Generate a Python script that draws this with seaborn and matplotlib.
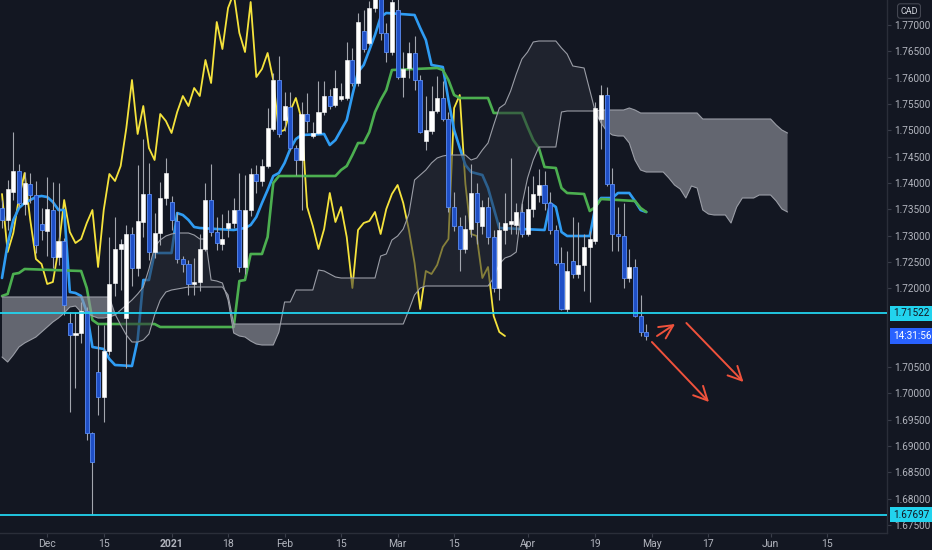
import numpy as np
import pandas as pd
import seaborn as sns
import matplotlib
matplotlib.use("Agg")
import matplotlib.pyplot as plt
import matplotlib.transforms as mtransforms

# daily candles, bar 0 = 19 Nov 2020 (holidays skipped)
opens = [
    1.73523, 1.73295, 1.73827, 1.74226, 1.73599, 1.73979, 1.73770, 1.73219, 1.73086, 1.73485,
    1.72592, 1.72896, 1.71338, 1.71110, 1.71148, 1.71566, 1.69248, 1.70407, 1.69932, 1.70806,
    1.72098, 1.72744, 1.71433, 1.73029, 1.72383, 1.73257, 1.73789, 1.72687, 1.73048, 1.73713,
    1.73637, 1.73276, 1.72554, 1.72459, 1.72079, 1.72117, 1.72744, 1.73675, 1.73067, 1.72839,
    1.73143, 1.73238, 1.73485, 1.72402, 1.73485, 1.74169, 1.74036, 1.74321, 1.75024, 1.75955,
    1.75195, 1.75442, 1.74663, 1.74435, 1.75309, 1.74891, 1.74948, 1.75347, 1.75651, 1.75480,
    1.75594, 1.75613, 1.76335, 1.75898, 1.76886, 1.76658, 1.77323, 1.77600, 1.76848, 1.76487,
    1.77285, 1.76012, 1.76183, 1.76468, 1.75955, 1.74796, 1.74986, 1.75366, 1.75613, 1.75214,
    1.73542, 1.73181, 1.72744, 1.73124, 1.73808, 1.73181, 1.73542, 1.72972, 1.72003, 1.73105,
    1.73219, 1.73200, 1.73447, 1.73029, 1.73504, 1.73770, 1.73960, 1.73618, 1.73105, 1.72478,
    1.71604, 1.72516, 1.72269, 1.72440, 1.72782, 1.72896, 1.75214, 1.75670, 1.73979, 1.73029,
    1.72991, 1.72193, 1.72402, 1.71471, 1.71167]
highs = [
    1.73675, 1.74055, 1.74967, 1.74359, 1.74207, 1.74188, 1.74036, 1.73523, 1.74112, 1.74017,
    1.73998, 1.72953, 1.71547, 1.71547, 1.71737, 1.71642, 1.69267, 1.71300, 1.71300, 1.72972,
    1.73352, 1.72934, 1.73200, 1.73162, 1.74340, 1.74834, 1.74378, 1.73428, 1.74017, 1.74473,
    1.73751, 1.73447, 1.72611, 1.72535, 1.72573, 1.73029, 1.73998, 1.74359, 1.73352, 1.73409,
    1.73485, 1.73713, 1.74188, 1.74150, 1.74283, 1.74340, 1.74454, 1.75423, 1.76088, 1.76411,
    1.75727, 1.75727, 1.74720, 1.75537, 1.75708, 1.75157, 1.75936, 1.75936, 1.75784, 1.76145,
    1.75898, 1.76677, 1.76563, 1.77228, 1.77285, 1.77456, 1.77900, 1.78100, 1.77038, 1.77800,
    1.77600, 1.76487, 1.76677, 1.76791, 1.76050, 1.75651, 1.75841, 1.76031, 1.75936, 1.75347,
    1.73827, 1.73352, 1.73390, 1.74359, 1.73998, 1.73675, 1.73732, 1.73105, 1.73257, 1.73808,
    1.74473, 1.73618, 1.73618, 1.73941, 1.74131, 1.74264, 1.74226, 1.73827, 1.73200, 1.72782,
    1.72706, 1.73352, 1.73257, 1.73029, 1.73086, 1.75537, 1.75860, 1.75822, 1.74283, 1.73542,
    1.73618, 1.72744, 1.72554, 1.71870, 1.71319]
lows = [
    1.73143, 1.73105, 1.73675, 1.73542, 1.73390, 1.73618, 1.72668, 1.72915, 1.72611, 1.72383,
    1.72440, 1.71490, 1.69647, 1.70103, 1.70958, 1.69115, 1.67697, 1.69590, 1.69457, 1.70730,
    1.71851, 1.71965, 1.70483, 1.72041, 1.72231, 1.72972, 1.72535, 1.72573, 1.72820, 1.73580,
    1.73105, 1.72478, 1.72307, 1.71870, 1.71870, 1.71946, 1.72706, 1.72991, 1.72725, 1.72725,
    1.72972, 1.73143, 1.72307, 1.72269, 1.73371, 1.73808, 1.73941, 1.74283, 1.74986, 1.74872,
    1.74986, 1.74625, 1.74150, 1.73485, 1.74967, 1.74853, 1.74929, 1.75290, 1.75404, 1.75442,
    1.75556, 1.75575, 1.75841, 1.75841, 1.76487, 1.76620, 1.77247, 1.76715, 1.76297, 1.76430,
    1.75974, 1.75632, 1.75993, 1.75765, 1.74948, 1.74625, 1.74929, 1.75328, 1.75176, 1.73447,
    1.73086, 1.72326, 1.72668, 1.72972, 1.72839, 1.73029, 1.72839, 1.71927, 1.71775, 1.72839,
    1.73029, 1.73029, 1.72972, 1.72991, 1.73352, 1.73637, 1.73485, 1.73029, 1.72440, 1.71585,
    1.71547, 1.72193, 1.72193, 1.71946, 1.71737, 1.72839, 1.74644, 1.73941, 1.72706, 1.72706,
    1.72003, 1.72117, 1.71452, 1.71091, 1.71015]
closes = [
    1.73295, 1.73884, 1.74226, 1.73618, 1.73998, 1.73770, 1.72820, 1.73105, 1.73504, 1.72592,
    1.72896, 1.71680, 1.71110, 1.71148, 1.71566, 1.69248, 1.68697, 1.69932, 1.70806, 1.72079,
    1.72744, 1.72839, 1.73029, 1.72383, 1.73276, 1.73789, 1.72687, 1.73048, 1.73713, 1.74188,
    1.73295, 1.72554, 1.72459, 1.72079, 1.72117, 1.72744, 1.73675, 1.73067, 1.72858, 1.72934,
    1.73238, 1.73485, 1.72402, 1.73485, 1.74169, 1.74036, 1.74321, 1.75043, 1.75955, 1.74929,
    1.75461, 1.74663, 1.74435, 1.75309, 1.75176, 1.74948, 1.75347, 1.75651, 1.75461, 1.75803,
    1.75651, 1.76335, 1.75898, 1.77057, 1.76544, 1.77323, 1.77600, 1.76848, 1.76487, 1.77437,
    1.76012, 1.76164, 1.76468, 1.75955, 1.74967, 1.75005, 1.75366, 1.75613, 1.75214, 1.73542,
    1.73181, 1.72744, 1.73124, 1.73808, 1.73257, 1.73542, 1.72972, 1.72003, 1.73105, 1.73238,
    1.73276, 1.73447, 1.73029, 1.73504, 1.73789, 1.73960, 1.73618, 1.73105, 1.72478, 1.71604,
    1.72326, 1.72269, 1.72440, 1.72782, 1.72934, 1.75423, 1.75670, 1.73979, 1.73029, 1.72991,
    1.72193, 1.72402, 1.71471, 1.71167, 1.71091]

# ichimoku lines (bar index, price)
tenkan_bar = [0, 1, 2, 3, 4, 6, 7, 8, 9, 10, 11, 12, 13, 14, 15, 16, 18, 19, 20, 23, 24, 25, 26, 27,
              30, 31, 32, 33, 34, 35, 41, 43, 44, 45, 46, 47, 48, 49, 50, 51, 52, 53, 57, 58, 59,
              60, 61, 62, 63, 64, 65, 66, 67, 68, 73, 74, 75, 76, 78, 79, 80, 81, 82, 83, 85, 86,
              87, 88, 96, 97, 98, 99, 100, 104, 105, 106, 108, 109, 111, 112, 113, 114]
tenkan_val = [1.72193, 1.72839, 1.73295, 1.73523, 1.73618, 1.73732, 1.73751, 1.73732, 1.73637,
              1.73485, 1.73485, 1.71927, 1.71908, 1.71851, 1.71547, 1.70882, 1.70844, 1.70654,
              1.70540, 1.70521, 1.71015, 1.72155, 1.72155, 1.72668, 1.72668, 1.73428, 1.73390,
              1.73295, 1.73162, 1.73143, 1.73105, 1.73143, 1.73200, 1.73352, 1.73618, 1.73865,
              1.74131, 1.74188, 1.74378, 1.74644, 1.74834, 1.74910, 1.74929, 1.74720, 1.74815,
              1.75005, 1.75195, 1.75670, 1.76107, 1.76240, 1.76525, 1.76810, 1.77152, 1.77228,
              1.77190, 1.76943, 1.76715, 1.76240, 1.76202, 1.75575, 1.75005, 1.74663, 1.74340,
              1.74207, 1.74150, 1.73903, 1.73523, 1.73143, 1.73105, 1.73618, 1.73542, 1.73067,
              1.72991, 1.72991, 1.73542, 1.73713, 1.73713, 1.73808, 1.73808, 1.73656, 1.73485,
              1.73447]
kijun_bar = [0, 1, 2, 3, 4, 14, 15, 16, 17, 27, 28, 41, 42, 43, 44, 46, 47, 48, 49, 59, 60, 61, 62,
             63, 64, 65, 66, 67, 68, 69, 77, 78, 79, 80, 81, 86, 87, 92, 93, 94, 95, 96, 98, 99,
             100, 103, 104, 105, 106, 112, 113, 114]
kijun_val = [1.71851, 1.71889, 1.72269, 1.72288, 1.72364, 1.72326, 1.72003, 1.71395, 1.71319,
             1.71319, 1.71262, 1.71262, 1.72136, 1.72155, 1.72649, 1.72649, 1.72972, 1.73998,
             1.74131, 1.74131, 1.74245, 1.74321, 1.74530, 1.74758, 1.74758, 1.74967, 1.75347,
             1.75575, 1.75765, 1.76145, 1.76183, 1.76145, 1.75955, 1.75670, 1.75613, 1.75613,
             1.75328, 1.75328, 1.75062, 1.74815, 1.74663, 1.74302, 1.74283, 1.73903, 1.73808,
             1.73789, 1.73466, 1.73542, 1.73694, 1.73656, 1.73523, 1.73447]
lag_offset = 25  # lagging span drawn 25 bars back

# leading spans, one value per bar (0..139)
span_a = [
    1.70692, 1.70597, 1.70730, 1.70882, 1.70958, 1.71015, 1.71072, 1.71167, 1.71262, 1.71357,
    1.71433, 1.71528, 1.71642, 1.71661, 1.71547, 1.71528, 1.71471, 1.71433, 1.71433, 1.71452,
    1.71490, 1.71585, 1.71680, 1.71775, 1.71889, 1.72022, 1.72364, 1.72782, 1.72915, 1.72991,
    1.73029, 1.73048, 1.73048, 1.73048, 1.73010, 1.72934, 1.72934, 1.72155, 1.72136, 1.72098,
    1.71775, 1.71148, 1.71091, 1.71072, 1.70996, 1.70939, 1.70920, 1.70920, 1.70920, 1.71167,
    1.71737, 1.71737, 1.71965, 1.71965, 1.71965, 1.71965, 1.72345, 1.72326, 1.72269, 1.72212,
    1.72193, 1.72193, 1.72193, 1.72193, 1.72193, 1.72193, 1.72193, 1.72611, 1.72649, 1.72915,
    1.72991, 1.73124, 1.73409, 1.74055, 1.74150, 1.74245, 1.74378, 1.74473, 1.74511, 1.74530,
    1.74530, 1.74530, 1.74530, 1.74435, 1.74473, 1.74625, 1.74758, 1.75100, 1.75423, 1.75499,
    1.75746, 1.76069, 1.76354, 1.76487, 1.76677, 1.76696, 1.76696, 1.76696, 1.76696, 1.76563,
    1.76449, 1.76221, 1.76202, 1.76183, 1.75765, 1.75347, 1.75138, 1.74986, 1.74910, 1.74891,
    1.74891, 1.74758, 1.74435, 1.74245, 1.74207, 1.74207, 1.74207, 1.74207, 1.74093, 1.73960,
    1.73884, 1.73713, 1.73941, 1.73903, 1.73485, 1.73409, 1.73390, 1.73390, 1.73390, 1.73238,
    1.73542, 1.73713, 1.73713, 1.73713, 1.73770, 1.73770, 1.73770, 1.73656, 1.73504, 1.73447]
span_b = ([1.71832] * 20
          + [1.71509, 1.71300, 1.71110, 1.70977, 1.70977, 1.71015, 1.71129, 1.71490, 1.71775, 1.71927]
          + [1.71965, 1.71984, 1.72003] + [1.72022] * 7
          + [1.71870] + [1.71319] * 31
          + [1.71585, 1.71870, 1.72003] + [1.72041] * 12
          + [1.72193, 1.72459, 1.72573, 1.72611, 1.72687, 1.73580, 1.74093, 1.74435] + [1.74682] * 4
          + [1.75347] + [1.75366] * 6 + [1.75385] * 5 + [1.75423, 1.75385]
          + [1.75328] * 11 + [1.75214] * 13 + [1.75100, 1.75005, 1.74948])

level_hi = 1.71522
level_lo = 1.67697
countdown = "14:31:56"

date_bars = [8, 18, 30, 40, 50, 60, 70, 80, 93, 105, 115, 125, 136, 146]
date_labels = ["Dec", "15", "2021", "18", "Feb", "15", "Mar", "15", "Apr", "19", "May", "17", "Jun", "15"]
price_ticks = [1.675, 1.680, 1.685, 1.690, 1.695, 1.700, 1.705, 1.720, 1.725, 1.730,
               1.735, 1.740, 1.745, 1.750, 1.755, 1.760, 1.765, 1.770]

# drawn arrows: (tail bar, tail price, head bar, head price)
arrows = [(115.9, 1.71091, 119.1, 1.71319),
          (115.0, 1.70977, 125.1, 1.69837),
          (121.1, 1.71338, 131.2, 1.70217)]

BG = "#131722"
TXT = "#b2b5be"
sns.set_theme(style="dark", rc={"axes.facecolor": BG, "figure.facecolor": BG})
plt.rcParams["font.family"] = ["Roboto", "DejaVu Sans"]

fig = plt.figure(figsize=(9.32, 5.5), dpi=100)
ax = fig.add_axes([0, 17 / 550, 887 / 932, 533 / 550])
ax.set_facecolor(BG)

df = pd.DataFrame({"o": opens, "h": highs, "l": lows, "c": closes})
df["bar"] = np.arange(len(df))
up = df.c >= df.o

# lines (under the cloud fill, like the original)
lag = pd.DataFrame({"bar": df.bar[:-lag_offset].values, "price": df.c[lag_offset:].values})
sns.lineplot(data=lag, x="bar", y="price", color="#f5e33c", linewidth=1.3,
             estimator=None, sort=False, ax=ax, zorder=2)
sns.lineplot(x=tenkan_bar, y=tenkan_val, color="#2f9cf3", linewidth=1.9,
             estimator=None, sort=False, ax=ax, zorder=2)
sns.lineplot(x=kijun_bar, y=kijun_val, color="#4caf50", linewidth=1.9,
             estimator=None, sort=False, ax=ax, zorder=2)

# cloud
cx = np.arange(len(span_a))
a = np.array(span_a)
b = np.array(span_b)
ax.fill_between(cx, a, b, where=a >= b, interpolate=True, color="#2a2e39", alpha=0.55, lw=0, zorder=3)
ax.fill_between(cx, a, b, where=a < b, interpolate=True, color="#9598a1", alpha=0.62, lw=0, zorder=3)
sns.lineplot(x=cx, y=a, color="#9a9da6", linewidth=0.8, estimator=None, ax=ax, zorder=3.5)
sns.lineplot(x=cx, y=b, color="#9a9da6", linewidth=0.8, estimator=None, ax=ax, zorder=3.5)

# candles
ax.vlines(df.bar, df.l, df.h, color="#a3a6ae", lw=0.8, zorder=4)
h_up = np.maximum((df.c - df.o)[up], 0.00008)
ax.bar(df.bar[up], h_up, bottom=df.o[up], width=0.72, color="white",
       edgecolor="white", lw=0.4, zorder=5)
h_dn = np.maximum((df.o - df.c)[~up], 0.00008)
ax.bar(df.bar[~up], h_dn, bottom=df.c[~up], width=0.72, color="#1f4fc6",
       edgecolor="#5b8cf2", lw=0.6, zorder=5)

# horizontal levels
for lv in (level_hi, level_lo):
    ax.axhline(lv, color="#22d3ee", lw=1.3, zorder=6)

for x0, y0, x1, y1 in arrows:
    ax.annotate("", xy=(x1, y1), xytext=(x0, y0), zorder=7,
                arrowprops=dict(arrowstyle="->,head_length=0.7,head_width=0.35",
                                color="#f0523c", lw=1.4, shrinkA=0, shrinkB=0,
                                mutation_scale=14))

ax.set_xlim(-0.354, 156.6)
ax.set_ylim(1.67348, 1.77475)
ax.set_xlabel("")
ax.set_ylabel("")

# axes styling
for side in ("top", "left"):
    ax.spines[side].set_visible(False)
for side in ("right", "bottom"):
    ax.spines[side].set_color("#2a2e39")
    ax.spines[side].set_linewidth(1)
ax.grid(False)

ax.yaxis.tick_right()
ax.set_yticks(price_ticks)
ax.set_yticklabels([f"{p:.5f}" for p in price_ticks])
ax.tick_params(axis="y", colors="#3a3e4a", labelcolor=TXT, labelsize=7.2,
               length=3, width=0.8, pad=2.5, direction="out", right=True, left=False)

ax.set_xticks(date_bars)
ax.set_xticklabels(date_labels)
ax.tick_params(axis="x", colors="#3a3e4a", labelcolor=TXT, labelsize=7.5,
               length=3, width=0.8, pad=1.5, direction="out", bottom=True)
for t in ax.get_xticklabels():
    if t.get_text() == "2021":
        t.set_fontweight("bold")

# price labels on the scale
trans = mtransforms.blended_transform_factory(ax.transAxes, ax.transData)
for lv in (level_hi, level_lo):
    ax.text(1.0065, lv, f"{lv:.5f}", transform=trans, ha="left", va="center",
            fontsize=7.2, color=BG, clip_on=False, zorder=10,
            bbox=dict(boxstyle="square,pad=0.28", fc="#22d3ee", ec="none"))
ax.text(1.0065, closes[-1], countdown, transform=trans, ha="left", va="center",
        fontsize=7.2, color="white", clip_on=False, zorder=10,
        bbox=dict(boxstyle="square,pad=0.28", fc="#2962ff", ec="none"))

fig.text(909 / 932, 1 - 11 / 550, "CAD", ha="center", va="center", fontsize=6.5,
         color="#d1d4dc", bbox=dict(boxstyle="round,pad=0.3", fc=BG, ec="#434651", lw=0.8))

fig.savefig("out.png", dpi=100, facecolor=BG)
